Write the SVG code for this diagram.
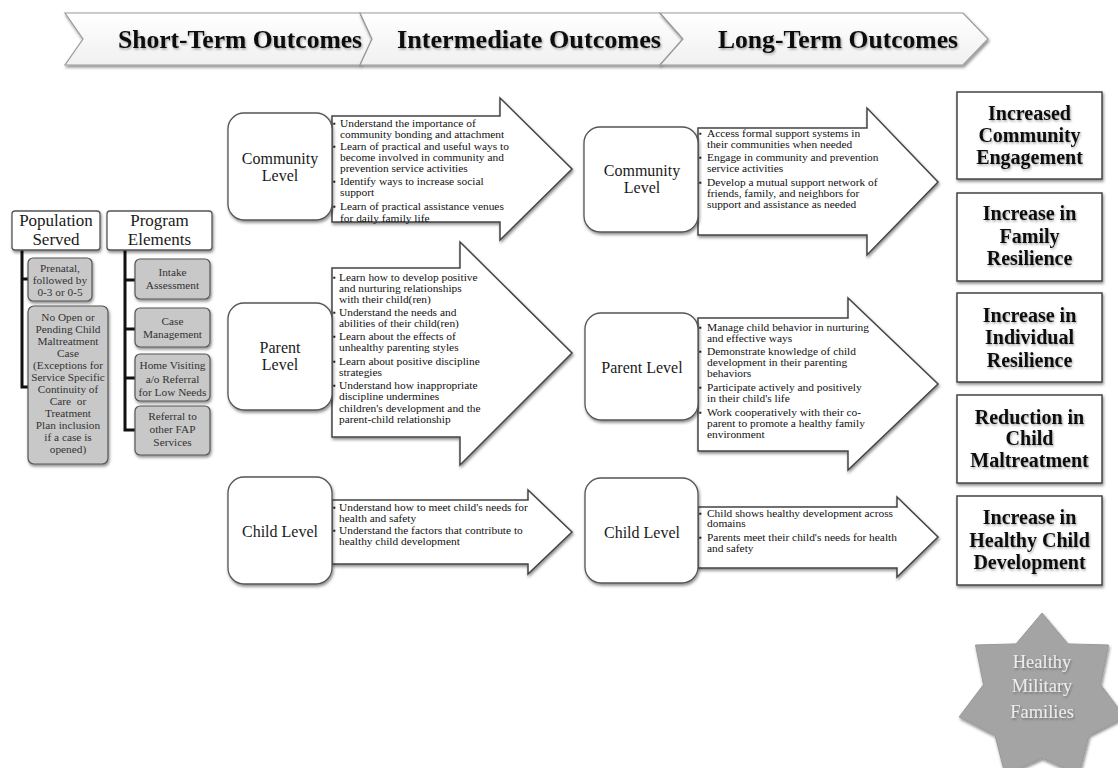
<svg xmlns="http://www.w3.org/2000/svg" width="1118" height="768" viewBox="0 0 1118 768">
<defs>
<filter id="sh" x="-10%" y="-10%" width="130%" height="130%"><feDropShadow dx="1" dy="2" stdDeviation="1.5" flood-color="#000" flood-opacity="0.45"/></filter>
<filter id="tsh" x="-10%" y="-20%" width="130%" height="150%"><feDropShadow dx="1" dy="1.5" stdDeviation="1" flood-color="#000" flood-opacity="0.35"/></filter>
<linearGradient id="bg" x1="0" y1="0" x2="0" y2="1"><stop offset="0" stop-color="#ffffff"/><stop offset="1" stop-color="#f0f0f0"/></linearGradient>
</defs>
<style>
text{font-family:"Liberation Serif",serif;fill:#1a1a1a}
.ban{font-weight:bold;font-size:26px;fill:#111;text-anchor:middle}
.lvl{font-size:16px;text-anchor:middle}
.bt{font-size:11.4px;fill:#111}
.bul{font-size:8px}
.hdr{font-size:17px;text-anchor:middle}
.sm{font-size:11.3px;text-anchor:middle;fill:#333}
.out{font-weight:bold;font-size:20px;fill:#111;text-anchor:middle}
.star{font-size:18.5px;fill:#ececec;text-anchor:middle}
.chev{fill:url(#bg);stroke:#9a9a9a;stroke-width:1.2}
.rbox{fill:#fff;stroke:#555;stroke-width:1.3}
.arr{fill:#fff;stroke:#444;stroke-width:1.5}
.gbox{fill:#c8c8c8;stroke:#555;stroke-width:1.2}
.obox{fill:#fff;stroke:#444;stroke-width:1.5}
.con{stroke:#111;stroke-width:3;fill:none}
</style>
<rect width="1118" height="768" fill="#fff"/>

<g id="banner">
<polygon class="chev" filter="url(#sh)" points="65,13 360,13 372,39 360,65 65,65 83,39"/>
<polygon class="chev" filter="url(#sh)" points="360,13 660,13 683,39 660,65 360,65 372,39"/>
<polygon class="chev" filter="url(#sh)" points="660,13 963,13 988,39 963,65 660,65 683,39"/>
<text class="ban" filter="url(#tsh)" x="240" y="48" textLength="244" lengthAdjust="spacingAndGlyphs">Short-Term Outcomes</text>
<text class="ban" filter="url(#tsh)" x="529" y="48" textLength="264" lengthAdjust="spacingAndGlyphs">Intermediate Outcomes</text>
<text class="ban" filter="url(#tsh)" x="838" y="48" textLength="240" lengthAdjust="spacingAndGlyphs">Long-Term Outcomes</text>
</g>

<g id="connectors">
<polyline class="con" points="22,250 22,387 28,387"/>
<line class="con" x1="22" y1="279" x2="28" y2="279"/>
<polyline class="con" points="125,250 125,430 135,430"/>
<line class="con" x1="125" y1="280" x2="135" y2="280"/>
<line class="con" x1="125" y1="329" x2="135" y2="329"/>
<line class="con" x1="125" y1="378" x2="135" y2="378"/>
</g>

<g id="population-served">
<rect class="rbox" filter="url(#sh)" x="12" y="211" width="88" height="39" rx="3"/>
<text class="hdr" x="56" y="226">Population</text>
<text class="hdr" x="56" y="245">Served</text>
</g>
<g id="pop-prenatal">
<rect class="gbox" filter="url(#sh)" x="28" y="258" width="64" height="43" rx="5"/>
<text class="sm" x="60" y="272">Prenatal,</text>
<text class="sm" x="60" y="284">followed by</text>
<text class="sm" x="60" y="296">0-3 or 0-5</text>
</g>
<g id="pop-no-open-case">
<rect class="gbox" filter="url(#sh)" x="28" y="306" width="80" height="158" rx="6"/>
<text class="sm" x="68" y="321">No Open or</text>
<text class="sm" x="68" y="333">Pending Child</text>
<text class="sm" x="68" y="345">Maltreatment</text>
<text class="sm" x="68" y="357">Case</text>
<text class="sm" x="68" y="369">(Exceptions for</text>
<text class="sm" x="68" y="381">Service Specific</text>
<text class="sm" x="68" y="393">Continuity of</text>
<text class="sm" x="68" y="405" xml:space="preserve">Care  or</text>
<text class="sm" x="68" y="417">Treatment</text>
<text class="sm" x="68" y="429">Plan inclusion</text>
<text class="sm" x="68" y="441">if a case is</text>
<text class="sm" x="68" y="453">opened)</text>
</g>

<g id="program-elements">
<rect class="rbox" filter="url(#sh)" x="107" y="211" width="105" height="39" rx="3"/>
<text class="hdr" x="159.5" y="226">Program</text>
<text class="hdr" x="159.5" y="245">Elements</text>
</g>
<g id="prog-intake">
<rect class="gbox" filter="url(#sh)" x="135" y="259" width="75" height="40" rx="5"/>
<text class="sm" x="172.5" y="276">Intake</text>
<text class="sm" x="172.5" y="289">Assessment</text>
</g>
<g id="prog-case">
<rect class="gbox" filter="url(#sh)" x="135" y="308" width="75" height="39" rx="5"/>
<text class="sm" x="172.5" y="325">Case</text>
<text class="sm" x="172.5" y="338">Management</text>
</g>
<g id="prog-home">
<rect class="gbox" filter="url(#sh)" x="135" y="354" width="75" height="47" rx="5"/>
<text class="sm" x="172.5" y="369">Home Visiting</text>
<text class="sm" x="172.5" y="383">a/o Referral</text>
<text class="sm" x="172.5" y="396">for Low Needs</text>
</g>
<g id="prog-referral">
<rect class="gbox" filter="url(#sh)" x="135" y="406" width="75" height="49" rx="5"/>
<text class="sm" x="172.5" y="420">Referral to</text>
<text class="sm" x="172.5" y="433">other FAP</text>
<text class="sm" x="172.5" y="446">Services</text>
</g>

<g id="st-community-arrow">
<path class="arr" filter="url(#sh)" d="M332,116 H500 V98 L572,169 L500,240 V222 H332 Z"/>
<text class="bul" x="333" y="126">▪</text><text class="bt" x="340" y="127">Understand the importance of</text>
<text class="bt" x="340" y="138">community bonding and attachment</text>
<text class="bul" x="333" y="149">▪</text><text class="bt" x="340" y="150">Learn of practical and useful ways to</text>
<text class="bt" x="340" y="161">become involved in community and</text>
<text class="bt" x="340" y="172">prevention service activities</text>
<text class="bul" x="333" y="184">▪</text><text class="bt" x="340" y="185">Identify ways to increase social</text>
<text class="bt" x="340" y="196">support</text>
<text class="bul" x="333" y="209">▪</text><text class="bt" x="340" y="210">Learn of practical assistance venues</text>
<text class="bt" x="340" y="222">for daily family life</text>
</g>
<g id="st-community">
<rect class="rbox" filter="url(#sh)" x="228" y="113" width="104" height="107" rx="16"/>
<text class="lvl" x="280" y="164">Community</text>
<text class="lvl" x="280" y="181">Level</text>
</g>

<g id="st-parent-arrow">
<path class="arr" filter="url(#sh)" d="M332,268 H460 V242 L572,353 L460,465 V437 H332 Z"/>
<text class="bul" x="333" y="280">▪</text><text class="bt" x="339" y="281">Learn how to develop positive</text>
<text class="bt" x="339" y="292">and nurturing relationships</text>
<text class="bt" x="339" y="303">with their child(ren)</text>
<text class="bul" x="333" y="315">▪</text><text class="bt" x="339" y="316">Understand the needs and</text>
<text class="bt" x="339" y="327">abilities of their child(ren)</text>
<text class="bul" x="333" y="339">▪</text><text class="bt" x="339" y="340">Learn about the effects of</text>
<text class="bt" x="339" y="351">unhealthy parenting styles</text>
<text class="bul" x="333" y="364">▪</text><text class="bt" x="339" y="365">Learn about positive discipline</text>
<text class="bt" x="339" y="376">strategies</text>
<text class="bul" x="333" y="388">▪</text><text class="bt" x="339" y="389">Understand how inappropriate</text>
<text class="bt" x="339" y="400">discipline undermines</text>
<text class="bt" x="339" y="412">children's development and the</text>
<text class="bt" x="339" y="423">parent-child relationship</text>
</g>
<g id="st-parent">
<rect class="rbox" filter="url(#sh)" x="228" y="303" width="104" height="107" rx="16"/>
<text class="lvl" x="280" y="353">Parent</text>
<text class="lvl" x="280" y="370">Level</text>
</g>

<g id="st-child-arrow">
<path class="arr" filter="url(#sh)" d="M332,500 H528 V490 L572,532 L528,574 V564 H332 Z"/>
<text class="bul" x="333" y="510">▪</text><text class="bt" x="339" y="511">Understand how to meet child's needs for</text>
<text class="bt" x="339" y="522">health and safety</text>
<text class="bul" x="333" y="533">▪</text><text class="bt" x="339" y="534">Understand the factors that contribute to</text>
<text class="bt" x="339" y="545">healthy child development</text>
</g>
<g id="st-child">
<rect class="rbox" filter="url(#sh)" x="228" y="477" width="104" height="107" rx="16"/>
<text class="lvl" x="280" y="537">Child Level</text>
</g>

<g id="it-community-arrow">
<path class="arr" filter="url(#sh)" d="M698,128 H867 V108 L938,182 L867,255 V235 H698 Z"/>
<text class="bul" x="699" y="136">▪</text><text class="bt" x="707" y="137">Access formal support systems in</text>
<text class="bt" x="707" y="148">their communities when needed</text>
<text class="bul" x="699" y="160">▪</text><text class="bt" x="707" y="161">Engage in community and prevention</text>
<text class="bt" x="707" y="172">service activities</text>
<text class="bul" x="699" y="185">▪</text><text class="bt" x="707" y="186">Develop a mutual support network of</text>
<text class="bt" x="707" y="197">friends, family, and neighbors for</text>
<text class="bt" x="707" y="208">support and assistance as needed</text>
</g>
<g id="it-community">
<rect class="rbox" filter="url(#sh)" x="584" y="127" width="114" height="105" rx="16"/>
<text class="lvl" x="642" y="176">Community</text>
<text class="lvl" x="642" y="193">Level</text>
</g>

<g id="it-parent-arrow">
<path class="arr" filter="url(#sh)" d="M698,318 H848 V298 L938,384 L848,470 V451 H698 Z"/>
<text class="bul" x="699" y="330">▪</text><text class="bt" x="707" y="331">Manage child behavior in nurturing</text>
<text class="bt" x="707" y="342">and effective ways</text>
<text class="bul" x="699" y="354">▪</text><text class="bt" x="707" y="355">Demonstrate knowledge of child</text>
<text class="bt" x="707" y="366">development in their parenting</text>
<text class="bt" x="707" y="377">behaviors</text>
<text class="bul" x="699" y="390">▪</text><text class="bt" x="707" y="391">Participate actively and positively</text>
<text class="bt" x="707" y="402">in their child's life</text>
<text class="bul" x="699" y="415">▪</text><text class="bt" x="707" y="416">Work cooperatively with their co-</text>
<text class="bt" x="707" y="427">parent to promote a healthy family</text>
<text class="bt" x="707" y="438">environment</text>
</g>
<g id="it-parent">
<rect class="rbox" filter="url(#sh)" x="585" y="313" width="113" height="107" rx="16"/>
<text class="lvl" x="642" y="373">Parent Level</text>
</g>

<g id="it-child-arrow">
<path class="arr" filter="url(#sh)" d="M698,507 H897 V497 L938,537 L897,577 V568 H698 Z"/>
<text class="bul" x="699" y="516">▪</text><text class="bt" x="707" y="517">Child shows healthy development across</text>
<text class="bt" x="707" y="527">domains</text>
<text class="bul" x="699" y="540">▪</text><text class="bt" x="707" y="541">Parents meet their child's needs for health</text>
<text class="bt" x="707" y="552">and safety</text>
</g>
<g id="it-child">
<rect class="rbox" filter="url(#sh)" x="585" y="478" width="113" height="105" rx="16"/>
<text class="lvl" x="642" y="538">Child Level</text>
</g>

<g id="lt-community-engagement">
<rect class="obox" filter="url(#sh)" x="957" y="92" width="145" height="87"/>
<text class="out" filter="url(#tsh)" x="1029.5" y="120">Increased</text>
<text class="out" filter="url(#tsh)" x="1029.5" y="142">Community</text>
<text class="out" filter="url(#tsh)" x="1029.5" y="164">Engagement</text>
</g>
<g id="lt-family-resilience">
<rect class="obox" filter="url(#sh)" x="957" y="193" width="145" height="88"/>
<text class="out" filter="url(#tsh)" x="1029.5" y="220">Increase in</text>
<text class="out" filter="url(#tsh)" x="1029.5" y="243">Family</text>
<text class="out" filter="url(#tsh)" x="1029.5" y="265">Resilience</text>
</g>
<g id="lt-individual-resilience">
<rect class="obox" filter="url(#sh)" x="957" y="293" width="145" height="89"/>
<text class="out" filter="url(#tsh)" x="1029.5" y="322">Increase in</text>
<text class="out" filter="url(#tsh)" x="1029.5" y="344">Individual</text>
<text class="out" filter="url(#tsh)" x="1029.5" y="367">Resilience</text>
</g>
<g id="lt-reduction-maltreatment">
<rect class="obox" filter="url(#sh)" x="957" y="395" width="145" height="88"/>
<text class="out" filter="url(#tsh)" x="1029.5" y="424">Reduction in</text>
<text class="out" filter="url(#tsh)" x="1029.5" y="445">Child</text>
<text class="out" filter="url(#tsh)" x="1029.5" y="467">Maltreatment</text>
</g>
<g id="lt-healthy-child-development">
<rect class="obox" filter="url(#sh)" x="957" y="496" width="145" height="89"/>
<text class="out" filter="url(#tsh)" x="1029.5" y="524">Increase in</text>
<text class="out" filter="url(#tsh)" x="1029.5" y="547">Healthy Child</text>
<text class="out" filter="url(#tsh)" x="1029.5" y="569">Development</text>
</g>

<g id="healthy-military-families">
<polygon filter="url(#sh)" fill="#a4a4a4" stroke="#999" stroke-width="1" points="1042,613 1068,643.9 1108.5,645 1100.5,684.6 1124.9,716.9 1088.9,735.4 1078.9,774.6 1042,758 1005.1,774.6 995.1,735.4 959.1,716.9 983.5,684.6 975.5,645 1016,643.9"/>
<text class="star" filter="url(#tsh)" x="1042" y="668">Healthy</text>
<text class="star" filter="url(#tsh)" x="1042" y="692">Military</text>
<text class="star" filter="url(#tsh)" x="1042" y="718">Families</text>
</g>
</svg>
